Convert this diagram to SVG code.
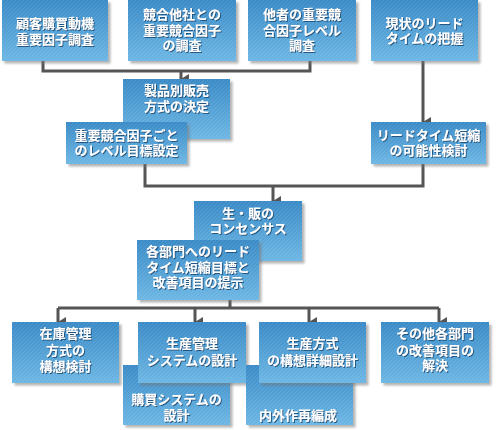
<svg xmlns="http://www.w3.org/2000/svg" width="500" height="430" viewBox="0 0 500 430">
<defs>
<linearGradient id="g" x1="0" y1="0" x2="0" y2="1">
<stop offset="0" stop-color="#3b8bc7"/>
<stop offset="1" stop-color="#6db7e4"/>
</linearGradient>
<pattern id="st" patternUnits="userSpaceOnUse" width="4" height="4">
<path d="M0,4 L4,0" stroke="#ffffff" stroke-opacity="0.09" stroke-width="1"/>
</pattern>
<filter id="sh" x="-10%" y="-10%" width="130%" height="130%">
<feDropShadow dx="2.5" dy="2.5" stdDeviation="1.2" flood-color="#777" flood-opacity="0.55"/>
</filter>
<filter id="ts" x="-10%" y="-20%" width="130%" height="150%">
<feDropShadow dx="1" dy="1" stdDeviation="0.5" flood-color="#1d4f78" flood-opacity="0.9"/>
</filter>
<marker id="ah" markerUnits="userSpaceOnUse" markerWidth="10" markerHeight="9" refX="5" refY="8" orient="auto-start-reverse" viewBox="0 0 10 9">
<path d="M0,0 L10,0 L5,8 Z" fill="#555"/>
</marker>
</defs>
<style>
.bx{fill:url(#g);filter:url(#sh)}
.tx{fill:url(#st)}
text{font-family:"Noto Sans CJK JP","Noto Sans",sans-serif;font-weight:bold;font-size:13px;fill:#fff;text-anchor:middle;filter:url(#ts)}
.ln{fill:none;stroke:#555;stroke-width:3}
.ar{fill:none;stroke:#555;stroke-width:3;marker-end:url(#ah)}
</style>
<g id="connectors">
<path class="ln" d="M43,61 V71 H310 V61"/>
<path class="ar" d="M181,71 V79"/>
<path class="ar" d="M423,61 V122"/>
<path class="ln" d="M145,164 V186 H423 V164"/>
<path class="ar" d="M273,186 V201"/>
<path class="ln" d="M230,300 V308"/>
<path class="ln" d="M58,308 H439"/>
<path class="ar" d="M58,308 V322"/>
<path class="ar" d="M195,308 V322"/>
<path class="ar" d="M309,308 V322"/>
<path class="ar" d="M439,308 V322"/>
</g>
<g id="n1"><rect class="bx" x="2" y="0" width="106" height="61"/><rect class="tx" x="2" y="0" width="106" height="61"/>
<text x="55" y="28">顧客購買動機</text><text x="55" y="44">重要因子調査</text></g>
<g id="n2"><rect class="bx" x="128" y="0" width="108" height="61"/><rect class="tx" x="128" y="0" width="108" height="61"/>
<text x="182" y="18.5">競合他社との</text><text x="182" y="34.5">重要競合因子</text><text x="182" y="50">の調査</text></g>
<g id="n3"><rect class="bx" x="248" y="0" width="108" height="61"/><rect class="tx" x="248" y="0" width="108" height="61"/>
<text x="302" y="18.5">他者の重要競</text><text x="302" y="34.5">合因子レベル</text><text x="302" y="50">調査</text></g>
<g id="n4"><rect class="bx" x="371" y="0" width="107" height="61"/><rect class="tx" x="371" y="0" width="107" height="61"/>
<text x="424.5" y="27.5">現状のリード</text><text x="424.5" y="43">タイムの把握</text></g>
<g id="n5"><rect class="bx" x="123" y="79" width="107" height="60"/><rect class="tx" x="123" y="79" width="107" height="60"/>
<text x="176.5" y="94.5">製品別販売</text><text x="176.5" y="111">方式の決定</text></g>
<g id="n6"><rect class="bx" x="66" y="122" width="121" height="42"/><rect class="tx" x="66" y="122" width="121" height="42"/>
<text x="126.5" y="139.5">重要競合因子ごと</text><text x="126.5" y="154.5">のレベル目標設定</text></g>
<g id="n7"><rect class="bx" x="371" y="122" width="115" height="42"/><rect class="tx" x="371" y="122" width="115" height="42"/>
<text x="428.5" y="139.5">リードタイム短縮</text><text x="428.5" y="154.5">の可能性検討</text></g>
<g id="n8"><rect class="bx" x="194" y="201" width="108" height="60"/><rect class="tx" x="194" y="201" width="108" height="60"/>
<text x="248" y="218">生・販の</text><text x="248" y="233">コンセンサス</text></g>
<g id="n9"><rect class="bx" x="137" y="240" width="122" height="60"/><rect class="tx" x="137" y="240" width="122" height="60"/>
<text x="198" y="256">各部門へのリード</text><text x="198" y="272">タイム短縮目標と</text><text x="198" y="287">改善項目の提示</text></g>
<g id="n10"><rect class="bx" x="12" y="322" width="107" height="61"/><rect class="tx" x="12" y="322" width="107" height="61"/>
<text x="65.5" y="338">在庫管理</text><text x="65.5" y="354.5">方式の</text><text x="65.5" y="370.5">構想検討</text></g>
<g id="n12"><rect class="bx" x="123" y="365" width="107" height="60"/><rect class="tx" x="123" y="365" width="107" height="60"/>
<text x="176.5" y="404">購買システムの</text><text x="176.5" y="419.5">設計</text></g>
<g id="n11"><rect class="bx" x="138" y="322" width="108" height="61"/><rect class="tx" x="138" y="322" width="108" height="61"/>
<text x="192" y="348">生産管理</text><text x="192" y="364.5">システムの設計</text></g>
<g id="n14"><rect class="bx" x="246" y="365" width="107" height="60"/><rect class="tx" x="246" y="365" width="107" height="60"/>
<text x="298" y="419.5">内外作再編成</text></g>
<g id="n13"><rect class="bx" x="259" y="322" width="107" height="61"/><rect class="tx" x="259" y="322" width="107" height="61"/>
<text x="312.5" y="348">生産方式</text><text x="312.5" y="364.5">の構想詳細設計</text></g>
<g id="n15"><rect class="bx" x="381" y="322" width="108" height="61"/><rect class="tx" x="381" y="322" width="108" height="61"/>
<text x="435" y="338">その他各部門</text><text x="435" y="354.5">の改善項目の</text><text x="435" y="370">解決</text></g>
</svg>
